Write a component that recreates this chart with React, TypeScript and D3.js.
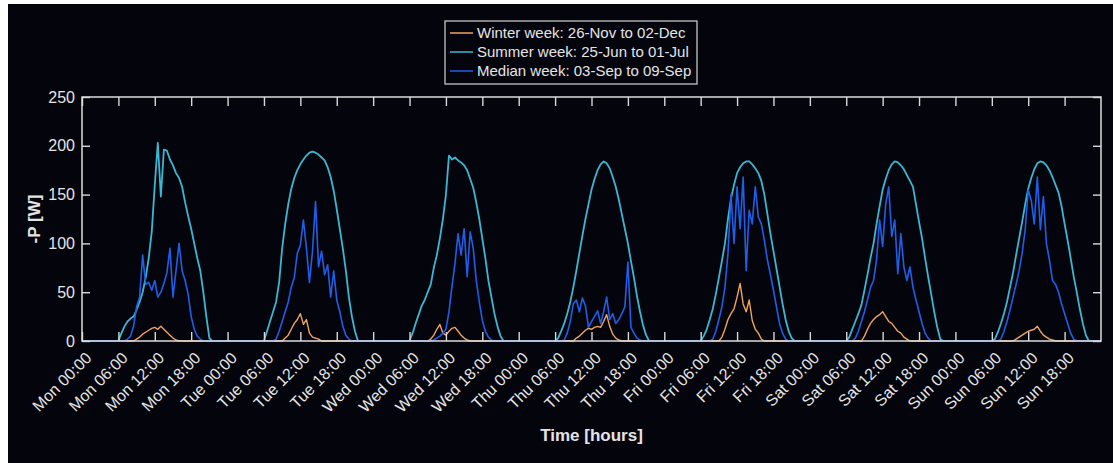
import * as d3 from 'd3';
import { useEffect, useRef } from 'react';

// hours of the week, one label every 6 h
const days = ['Mon', 'Tue', 'Wed', 'Thu', 'Fri', 'Sat', 'Sun'];
const dayTickHours = [0, 6, 12, 18];
const yTicks = [0, 50, 100, 150, 200, 250];

// daily samples: every 0.5 h from 06:00 (night = 0)
const startHour = 6;
const stepHours = 0.5;

const winterWeek = [
  [0, 0, 0, 0, 0, 0, 2, 4, 7, 9, 11, 13, 14, 12, 15, 12, 9, 6, 3, 1, 0, 0, 0],
  [0, 0, 0, 0, 0, 0, 0, 3, 6, 12, 18, 22, 28, 17, 22, 8, 4, 3, 2, 0, 0, 0, 0],
  [0, 0, 0, 0, 0, 0, 0, 2, 6, 12, 17, 8, 6, 10, 13, 14, 10, 6, 3, 1, 0, 0, 0],
  [0, 0, 0, 0, 0, 0, 0, 3, 5, 8, 11, 13, 12, 14, 15, 14, 20, 27, 15, 7, 3, 1, 0],
  [0, 0, 0, 0, 0, 0, 0, 4, 12, 22, 28, 33, 45, 59, 38, 30, 42, 21, 12, 8, 2, 0, 0],
  [0, 0, 0, 0, 0, 0, 5, 12, 18, 22, 25, 27, 30, 25, 20, 18, 14, 10, 8, 4, 2, 0, 0],
  [0, 0, 0, 0, 0, 0, 0, 0, 2, 4, 6, 8, 10, 11, 12, 15, 10, 6, 4, 2, 1, 0, 0],
];

const summerWeek = [
  [0, 8, 15, 20, 23, 25, 32, 40, 50, 65, 85, 112, 160, 203, 148, 196, 195, 186, 180, 172, 167, 158, 142, 128, 115, 100, 85, 72, 50, 25, 3, 0, 0],
  [0, 10, 20, 30, 40, 60, 95, 120, 140, 156, 167, 175, 181, 186, 190, 193, 194, 193, 191, 188, 185, 178, 168, 154, 135, 115, 95, 72, 45, 25, 10, 0, 0],
  [0, 8, 18, 27, 36, 42, 50, 58, 75, 88, 105, 125, 150, 190, 186, 188, 185, 183, 180, 175, 166, 157, 142, 125, 105, 85, 62, 45, 28, 15, 5, 0, 0],
  [0, 3, 10, 18, 28, 40, 55, 72, 90, 108, 125, 140, 155, 166, 175, 181, 184, 182, 177, 168, 158, 145, 130, 115, 100, 82, 65, 46, 30, 16, 6, 0, 0],
  [0, 5, 12, 22, 33, 48, 65, 82, 100, 125, 146, 160, 172, 178, 182, 184, 184, 181, 177, 172, 164, 150, 130, 110, 92, 74, 56, 38, 22, 10, 3, 0, 0],
  [0, 4, 12, 20, 28, 37, 52, 68, 85, 100, 120, 138, 155, 166, 175, 181, 184, 183, 180, 176, 170, 164, 158, 140, 122, 105, 85, 66, 48, 30, 14, 2, 0],
  [0, 2, 9, 18, 28, 40, 55, 70, 88, 105, 122, 140, 156, 167, 176, 182, 184, 183, 180, 175, 168, 160, 152, 138, 120, 103, 85, 66, 50, 33, 18, 6, 0],
];

const medianWeek = [
  [0, 0, 0, 2, 5, 15, 35, 45, 88, 58, 60, 52, 62, 45, 50, 59, 70, 95, 45, 72, 100, 72, 62, 48, 25, 12, 5, 2, 0, 0, 0, 0, 0],
  [0, 0, 0, 0, 2, 10, 20, 30, 40, 55, 65, 90, 98, 124, 95, 60, 92, 143, 76, 92, 68, 78, 45, 72, 42, 30, 15, 6, 2, 0, 0, 0, 0],
  [0, 0, 0, 0, 0, 0, 0, 0, 1, 3, 5, 8, 12, 30, 56, 80, 110, 88, 115, 66, 112, 95, 62, 40, 21, 10, 4, 1, 0, 0, 0, 0, 0],
  [0, 0, 0, 1, 8, 20, 38, 42, 30, 44, 36, 14, 20, 25, 31, 18, 30, 45, 22, 28, 18, 22, 28, 35, 81, 14, 8, 3, 1, 0, 0, 0, 0],
  [0, 0, 0, 0, 2, 10, 22, 35, 55, 90, 150, 100, 158, 115, 168, 72, 134, 120, 158, 127, 120, 103, 83, 68, 52, 35, 18, 8, 2, 0, 0, 0, 0],
  [0, 0, 0, 3, 10, 20, 30, 42, 55, 62, 83, 124, 97, 140, 158, 107, 124, 69, 110, 76, 62, 76, 55, 42, 30, 18, 8, 3, 0, 0, 0, 0, 0],
  [0, 0, 0, 2, 10, 20, 32, 45, 58, 72, 90, 114, 155, 144, 120, 168, 114, 148, 100, 83, 62, 58, 50, 38, 28, 18, 8, 2, 0, 0, 0, 0, 0],
];

const seriesNames = [
  'Winter week: 26-Nov to 02-Dec',
  'Summer week: 25-Jun to 01-Jul',
  'Median week: 03-Sep to 09-Sep',
];
const seriesColors = ['#f2a35c', '#3ab7d3', '#1f5ee9'];

function weekPoints(week: number[][]) {
  const pts: [number, number][] = [];
  week.forEach((day, d) => {
    pts.push([d * 24, 0]);
    day.forEach((v, i) => pts.push([d * 24 + startHour + i * stepHours, v]));
    pts.push([d * 24 + 24, 0]);
  });
  return pts;
}

export default function App() {
  const ref = useRef<SVGSVGElement>(null);

  useEffect(() => {
    const W = 1113, H = 463;
    const left = 82, right = 1101, top = 97, bottom = 341;
    const font = '"Liberation Sans", Arial, Helvetica, sans-serif';
    const fg = '#e4e4e4';

    const svg = d3.select(ref.current);
    svg.selectAll('*').remove();
    svg.attr('width', W).attr('height', H);

    svg.append('rect').attr('x', 8).attr('y', 4).attr('width', W - 8).attr('height', H - 4).attr('fill', '#04050c');

    const x = d3.scaleLinear().domain([0, 168]).range([left, right]);
    const y = d3.scaleLinear().domain([0, 250]).range([bottom, top]);

    const hourTicks = days.flatMap((_, d) => dayTickHours.map(h => d * 24 + h));
    const fmt = (v: number) => {
      const d = Math.floor(v / 24);
      const h = v % 24;
      return `${days[d]} ${String(h).padStart(2, '0')}:00`;
    };

    // lines
    const line = d3.line<[number, number]>().x(d => x(d[0])).y(d => y(d[1]));
    const weeks = [winterWeek, summerWeek, medianWeek];
    const widths = [1.4, 1.8, 1.6];
    weeks.forEach((wk, i) => {
      svg.append('path')
        .datum(weekPoints(wk))
        .attr('d', line)
        .attr('fill', 'none')
        .attr('stroke', seriesColors[i])
        .attr('stroke-width', widths[i])
        .attr('stroke-linejoin', 'round');
    });

    // axes (ticks inward on all four sides)
    const bottomAxis = svg.append('g')
      .attr('transform', `translate(0,${bottom})`)
      .call(d3.axisBottom(x).tickValues(hourTicks).tickSize(-9).tickFormat(d => fmt(+d)));
    bottomAxis.selectAll('text')
      .attr('x', 0).attr('y', 0).attr('dy', '0.35em')
      .attr('transform', 'translate(6,14) rotate(-45)')
      .style('text-anchor', 'end');

    svg.append('g')
      .attr('transform', `translate(0,${top})`)
      .call(d3.axisTop(x).tickValues(hourTicks).tickSize(-9).tickFormat(() => ''));

    const leftAxis = svg.append('g')
      .attr('transform', `translate(${left},0)`)
      .call(d3.axisLeft(y).tickValues(yTicks).tickSize(-8));
    leftAxis.selectAll('text').attr('x', -7);

    svg.append('g')
      .attr('transform', `translate(${right},0)`)
      .call(d3.axisRight(y).tickValues(yTicks).tickSize(-8).tickFormat(() => ''));

    svg.selectAll('.domain').remove();
    svg.selectAll('.tick line').attr('stroke', '#d8d8d8').attr('stroke-width', 1.4);
    svg.selectAll('.tick text')
      .attr('fill', fg)
      .style('font-family', font)
      .style('font-size', '16px');

    svg.append('rect')
      .attr('x', left).attr('y', top)
      .attr('width', right - left).attr('height', bottom - top)
      .attr('fill', 'none').attr('stroke', '#dcdcdc').attr('stroke-width', 1.5);

    // axis titles
    svg.append('text')
      .attr('x', (left + right) / 2).attr('y', 441)
      .attr('text-anchor', 'middle')
      .attr('fill', fg).style('font-family', font).style('font-size', '17px').style('font-weight', 'bold')
      .text('Time [hours]');
    svg.append('text')
      .attr('transform', `translate(40,${(top + bottom) / 2}) rotate(-90)`)
      .attr('text-anchor', 'middle')
      .attr('fill', fg).style('font-family', font).style('font-size', '17px').style('font-weight', 'bold')
      .text('-P [W]');

    // legend
    const lg = svg.append('g');
    lg.append('rect')
      .attr('x', 445).attr('y', 21).attr('width', 252).attr('height', 63)
      .attr('fill', '#04050c').attr('stroke', '#b8b8b8').attr('stroke-width', 1.4);
    seriesNames.forEach((name, i) => {
      const ly = 33 + i * 19;
      lg.append('line')
        .attr('x1', 450).attr('x2', 473).attr('y1', ly).attr('y2', ly)
        .attr('stroke', seriesColors[i]).attr('stroke-width', 2).attr('opacity', 0.75);
      lg.append('text')
        .attr('x', 477).attr('y', ly).attr('dy', '0.35em')
        .attr('fill', fg).style('font-family', font).style('font-size', '15px')
        .text(name);
    });
  }, []);

  return (
    <svg ref={ref} style={{ position: 'absolute', left: 0, top: 0, display: 'block' }} />
  );
}
